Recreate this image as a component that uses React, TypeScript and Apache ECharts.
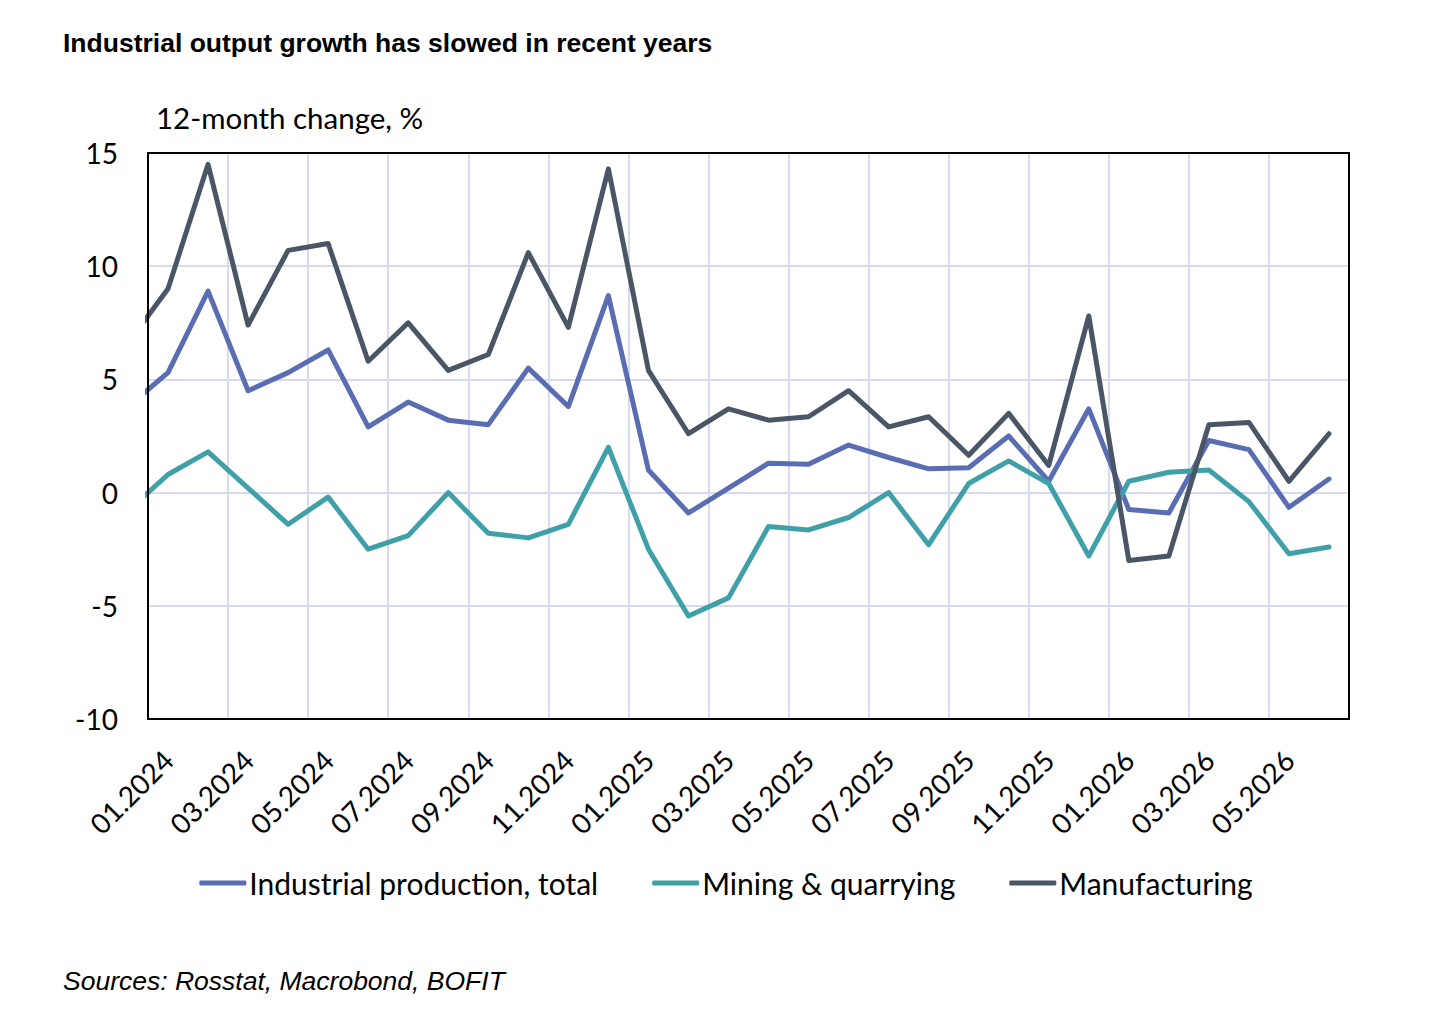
import React, { useEffect, useRef } from "react";
import * as echarts from "echarts";

// Months: the first one (12.2023) lies just left of the plot and is only partly visible (clipped)
const months = [
  "12.2023",
  "01.2024", "02.2024", "03.2024", "04.2024", "05.2024", "06.2024",
  "07.2024", "08.2024", "09.2024", "10.2024", "11.2024", "12.2024",
  "01.2025", "02.2025", "03.2025", "04.2025", "05.2025", "06.2025",
  "07.2025", "08.2025", "09.2025", "10.2025", "11.2025", "12.2025",
  "01.2026", "02.2026", "03.2026", "04.2026", "05.2026", "06.2026",
];

const industrialTotal = [
  3.8,
  5.3, 8.9, 4.5, 5.3, 6.3, 2.9, 4.0, 3.2, 3.0, 5.5, 3.8, 8.7,
  1.0, -0.9, 0.2, 1.3, 1.25, 2.1, 1.55, 1.05, 1.1, 2.5, 0.5, 3.7,
  -0.75, -0.9, 2.3, 1.9, -0.65, 0.6,
];

const mining = [
  -0.8,
  0.8, 1.8, 0.2, -1.4, -0.2, -2.5, -1.9, 0.0, -1.8, -2.0, -1.4, 2.0,
  -2.5, -5.45, -4.65, -1.5, -1.65, -1.1, 0.0, -2.3, 0.4, 1.4, 0.4, -2.8,
  0.5, 0.9, 1.0, -0.4, -2.7, -2.4,
];

const manufacturing = [
  6.6,
  9.0, 14.5, 7.4, 10.7, 11.0, 5.8, 7.5, 5.4, 6.1, 10.6, 7.3, 14.3,
  5.4, 2.6, 3.7, 3.2, 3.35, 4.5, 2.9, 3.35, 1.65, 3.5, 1.2, 7.8,
  -3.0, -2.8, 3.0, 3.1, 0.5, 2.6,
];

const seriesNames = ["Industrial production, total", "Mining & quarrying", "Manufacturing"];
const seriesColors = ["#5A6DB2", "#40A0A8", "#4A5666"];

const yMin = -10;
const yMax = 15;
const yStep = 5;

const TITLE = "Industrial output growth has slowed in recent years";
const UNIT = "12-month change, %";
const SOURCE = "Sources: Rosstat, Macrobond, BOFIT";

const LABEL_FONT = "Lato";

export default function App() {
  const ref = useRef<HTMLDivElement>(null);

  useEffect(() => {
    if (!ref.current) return;
    const chart = echarts.init(ref.current, undefined, { renderer: "svg" });
    const visibleMonths = months.slice(1);
    const n = visibleMonths.length;
    const toPoints = (arr: number[]) => arr.map((v, i) => [i - 0.5, v]);
    const datasets = [industrialTotal, mining, manufacturing];

    const borderLine = { show: true, onZero: false, lineStyle: { color: "#000", width: 2 } };

    chart.setOption({
      animation: false,
      backgroundColor: "#fff",
      title: [
        {
          text: TITLE,
          left: 63,
          top: 29,
          padding: 0,
          textStyle: { fontFamily: "Liberation Sans", fontWeight: "bold", fontSize: 26.5, color: "#000" },
        },
        {
          text: UNIT,
          left: 156,
          top: 102,
          padding: 0,
          textStyle: { fontFamily: LABEL_FONT, fontWeight: "normal", fontSize: 29.5, color: "#000" },
        },
        {
          text: SOURCE,
          left: 63,
          top: 967,
          padding: 0,
          textStyle: {
            fontFamily: "Liberation Sans",
            fontStyle: "italic",
            fontWeight: "normal",
            fontSize: 26.5,
            color: "#000",
          },
        },
      ],
      legend: {
        data: seriesNames,
        left: "center",
        top: 868,
        icon: "roundRect",
        itemWidth: 47,
        itemHeight: 5,
        itemGap: 54,
        padding: 0,
        textStyle: { fontFamily: LABEL_FONT, fontSize: 30, color: "#000", padding: [0, 0, 0, -2] },
      },
      grid: { left: 148, right: 103, top: 153, bottom: 301, containLabel: false },
      xAxis: [
        {
          type: "category",
          data: visibleMonths,
          boundaryGap: true,
          position: "bottom",
          axisLine: { show: false },
          axisTick: { show: false },
          axisLabel: {
            interval: 1,
            rotate: 45,
            margin: 36,
            fontFamily: LABEL_FONT,
            fontSize: 28,
            color: "#000",
          },
          splitLine: { show: true, interval: 1, lineStyle: { color: "#D6DBEE", width: 2 } },
          z: 0,
        },
        {
          type: "value",
          min: 0,
          max: n,
          position: "bottom",
          axisLine: borderLine,
          axisTick: { show: false },
          axisLabel: { show: false },
          splitLine: { show: false },
          z: 5,
        },
        {
          type: "value",
          min: 0,
          max: n,
          position: "top",
          axisLine: borderLine,
          axisTick: { show: false },
          axisLabel: { show: false },
          splitLine: { show: false },
          z: 5,
        },
      ],
      yAxis: [
        {
          type: "value",
          min: yMin,
          max: yMax,
          interval: yStep,
          position: "left",
          axisLine: { show: false },
          axisTick: { show: false },
          axisLabel: { margin: 30, fontFamily: LABEL_FONT, fontSize: 28, color: "#000" },
          splitLine: { show: true, lineStyle: { color: "#D6DBEE", width: 2 } },
          z: 0,
        },
        {
          type: "value",
          min: yMin,
          max: yMax,
          position: "left",
          axisLine: borderLine,
          axisTick: { show: false },
          axisLabel: { show: false },
          splitLine: { show: false },
          z: 5,
        },
        {
          type: "value",
          min: yMin,
          max: yMax,
          position: "right",
          axisLine: borderLine,
          axisTick: { show: false },
          axisLabel: { show: false },
          splitLine: { show: false },
          z: 5,
        },
      ],
      series: datasets.map((arr, k) => ({
        name: seriesNames[k],
        type: "line",
        xAxisIndex: 1,
        yAxisIndex: 0,
        data: toPoints(arr),
        symbol: "none",
        clip: true,
        color: seriesColors[k],
        lineStyle: { width: 5, color: seriesColors[k], cap: "round", join: "round" },
        z: 2,
      })),
    });

    return () => chart.dispose();
  }, []);

  return (
    <div
      ref={ref}
      style={{ position: "fixed", left: 0, top: 0, width: 1452, height: 1020, background: "#fff" }}
    />
  );
}
